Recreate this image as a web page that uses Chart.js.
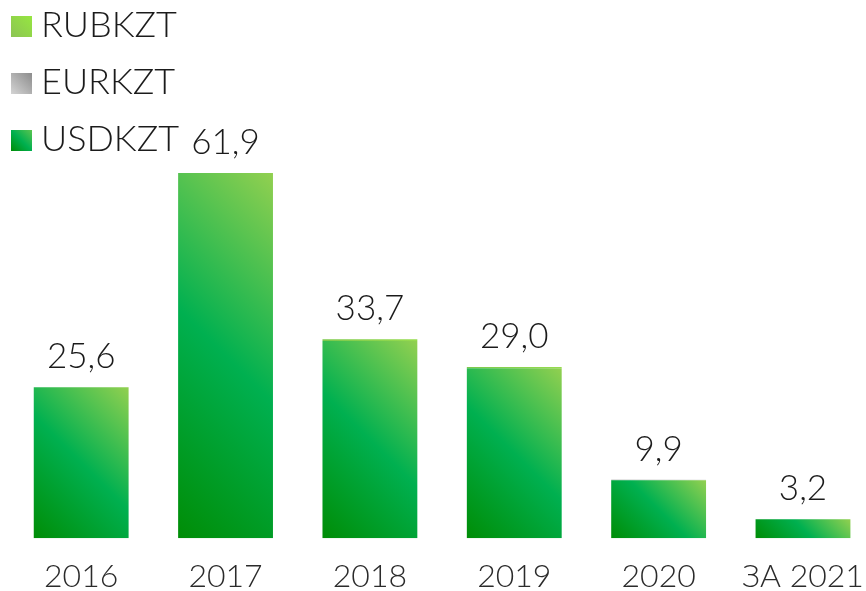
<!DOCTYPE html>
<html>
<head>
<meta charset="utf-8">
<script src="https://cdn.jsdelivr.net/npm/chart.js@4.4.0/dist/chart.umd.min.js"></script>
<style>
html, body { margin: 0; padding: 0; background: #fff; overflow: hidden; }
#wrap { position: relative; width: 880px; height: 591px; overflow: hidden; }
</style>
</head>
<body>
<div id="wrap"><canvas id="chart" width="880" height="615"></canvas></div>
<script>
var years = ["2016", "2017", "2018", "2019", "2020", "ЗА 2021"];
var usdkzt = [25.6, 61.9, 33.4, 28.8, 9.8, 3.2];
var eurkzt = [0, 0, 0, 0, 0.1, 0];
var rubkzt = [0, 0, 0.3, 0.2, 0, 0];

var FONT = "Lato, 'Open Sans', sans-serif";

function total(i) {
    return usdkzt[i] + eurkzt[i] + rubkzt[i];
}

function fmt(v) {
    return v.toFixed(1).replace(".", ",");
}

// 45 degree gradient running from the bar's bottom-left corner to its top-right corner
function cornerGradient(ctx, left, bottom, right, top, stops) {
    var w = right - left, h = bottom - top;
    var d = (w + h) / 2;
    var g = ctx.createLinearGradient(left, bottom, left + d, bottom - d);
    for (var k = 0; k < stops.length; k++) g.addColorStop(stops[k][0], stops[k][1]);
    return g;
}

function barFill(stops, flat, fromArr, toArr) {
    return function (c) {
        var chart = c.chart;
        if (c.type !== "data" || !chart.chartArea) return flat;
        var xs = chart.scales.x, ys = chart.scales.y;
        var i = c.dataIndex;
        var half = xs.width / years.length * chart.options.datasets.bar.barPercentage / 2;
        var x = xs.getPixelForValue(i);
        var bottom = ys.getPixelForValue(fromArr(i));
        var top = ys.getPixelForValue(toArr(i));
        if (bottom - top < 1) top = bottom - 1;
        return cornerGradient(chart.ctx, x - half, bottom, x + half, top, stops);
    };
}

var usdStops = [[0, "#008d06"], [0.5, "#00b050"], [1, "#92d050"]];
var eurStops = [[0, "#8a8a8a"], [1, "#d6d6d6"]];
var rubStops = [[0, "#7cc94c"], [1, "#96dc4e"]];

// value labels above each stacked bar
var totalLabels = {
    id: "totalLabels",
    afterDatasetsDraw: function (chart) {
        var ctx = chart.ctx, xs = chart.scales.x, ys = chart.scales.y;
        ctx.save();
        ctx.font = "300 35px " + FONT;
        ctx.fillStyle = "#1b1b1b";
        ctx.textAlign = "center";
        ctx.textBaseline = "alphabetic";
        for (var i = 0; i < years.length; i++) {
            var t = total(i);
            ctx.fillText(fmt(t), xs.getPixelForValue(i), ys.getPixelForValue(t) - 19);
        }
        ctx.restore();
    }
};

// vertical legend in the top-left corner, last dataset on top
var cornerLegend = {
    id: "cornerLegend",
    afterDraw: function (chart) {
        var ctx = chart.ctx;
        var sets = chart.data.datasets.slice().reverse();
        ctx.save();
        ctx.font = "300 36px " + FONT;
        ctx.textBaseline = "alphabetic";
        for (var k = 0; k < sets.length; k++) {
            var y = 16 + k * 57;
            ctx.fillStyle = cornerGradient(ctx, 11, y + 21, 32, y, sets[k].legendStops);
            ctx.fillRect(11, y, 21, 21);
            ctx.fillStyle = "#1b1b1b";
            ctx.fillText(sets[k].label, 41, y + 21);
        }
        ctx.restore();
    }
};

new Chart(document.getElementById("chart"), {
    type: "bar",
    data: {
        labels: years,
        datasets: [
            {
                label: "USDKZT",
                data: usdkzt,
                legendStops: [[0, "#008d06"], [0.5, "#00b050"], [1, "#5cc450"]],
                backgroundColor: barFill(usdStops, "#00a83a",
                    function (i) { return 0; },
                    function (i) { return usdkzt[i]; })
            },
            {
                label: "EURKZT",
                data: eurkzt,
                legendStops: [[0, "#d4d4d4"], [1, "#8c8c8c"]],
                backgroundColor: barFill(eurStops, "#a8a8a8",
                    function (i) { return usdkzt[i]; },
                    function (i) { return usdkzt[i] + eurkzt[i]; })
            },
            {
                label: "RUBKZT",
                data: rubkzt,
                legendStops: [[0, "#8cc454"], [1, "#96e640"]],
                backgroundColor: barFill(rubStops, "#8fd64a",
                    function (i) { return usdkzt[i] + eurkzt[i]; },
                    function (i) { return total(i); })
            }
        ]
    },
    options: {
        responsive: false,
        animation: false,
        devicePixelRatio: 1,
        layout: { padding: { left: 9, right: 1, top: 0, bottom: 0 } },
        datasets: { bar: { barPercentage: 0.657, categoryPercentage: 1 } },
        plugins: {
            legend: { display: false },
            tooltip: { enabled: false }
        },
        scales: {
            x: {
                stacked: true,
                grid: { display: false, drawTicks: false },
                border: { display: false },
                ticks: {
                    padding: 16,
                    color: "#2b2b2b",
                    font: { family: FONT, size: 32, weight: 300, lineHeight: 1.4 }
                }
            },
            y: {
                stacked: true,
                display: false,
                min: 0,
                max: 91.2
            }
        }
    },
    plugins: [totalLabels, cornerLegend]
});
</script>
</body>
</html>
